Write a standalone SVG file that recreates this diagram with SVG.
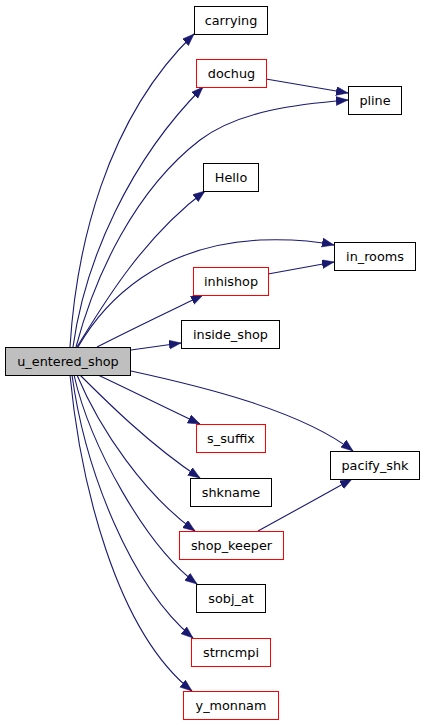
<svg xmlns="http://www.w3.org/2000/svg" width="424" height="725" viewBox="0 0 424 725">
<style>
.n rect{fill:#ffffff;stroke:#000000;stroke-width:1}
.n.r rect{stroke:#ff0000}
.n.s rect{fill:#bfbfbf}
.n text{font-family:"DejaVu Sans",sans-serif;font-size:12.8px;text-anchor:middle;fill:#000000}
.e path{fill:none;stroke:#191970;stroke-width:1.1;marker-end:url(#ah)}
</style>
<defs>
<marker id="ah" markerUnits="userSpaceOnUse" markerWidth="13" markerHeight="10" refX="12" refY="4.5" orient="auto">
<path d="M0,0 L12,4.5 L0,9 Z" fill="#191970" stroke="#191970" stroke-width="0.5"/>
</marker>
</defs>
<rect width="424" height="725" fill="#ffffff"/>
<g id="edges" class="e">
<path d="M70,347 C76,250 105,120 194,34"/>
<path d="M73,347 C85,260 130,160 203,87"/>
<path d="M76,347 C95,275 135,190 200,140 C240,110 300,104 348,100"/>
<path d="M266,79 L348,93"/>
<path d="M77,347 C100,310 140,240 205,191"/>
<path d="M78,347 C105,300 160,245 260,240 C290,239 315,241 334,245"/>
<path d="M268,274 L334,262"/>
<path d="M97,347 C130,330 170,311 203,295"/>
<path d="M131,350 L181,343"/>
<path d="M98,375 C130,390 170,410 200,424"/>
<path d="M131,371 C200,386 300,410 353,451"/>
<path d="M80,375 C105,400 150,445 200,478"/>
<path d="M258,531 C280,519 320,497 352,479"/>
<path d="M77,375 C100,430 145,495 195,531"/>
<path d="M74,375 C90,445 145,545 197,584"/>
<path d="M72,375 C85,470 130,585 193,638"/>
<path d="M70,375 C80,480 115,630 192,691"/>
</g>
<g id="carrying" class="n"><rect x="194.5" y="6.5" width="73" height="28"/><text x="231" y="25">carrying</text></g>
<g id="dochug" class="n r"><rect x="196.5" y="59.5" width="70" height="28"/><text x="231.5" y="78">dochug</text></g>
<g id="pline" class="n"><rect x="348.5" y="86.5" width="53" height="28"/><text x="375" y="105">pline</text></g>
<g id="Hello" class="n"><rect x="203.5" y="163.5" width="55" height="28"/><text x="231" y="182">Hello</text></g>
<g id="in_rooms" class="n"><rect x="334.5" y="242.5" width="81" height="28"/><text x="375" y="261">in_rooms</text></g>
<g id="inhishop" class="n r"><rect x="193.5" y="267.5" width="75" height="28"/><text x="231" y="286">inhishop</text></g>
<g id="inside_shop" class="n"><rect x="181.5" y="320.5" width="98" height="28"/><text x="230.5" y="339">inside_shop</text></g>
<g id="u_entered_shop" class="n s"><rect x="5.5" y="347.5" width="125" height="28"/><text x="68" y="366">u_entered_shop</text></g>
<g id="s_suffix" class="n r"><rect x="196.5" y="424.5" width="69" height="28"/><text x="231" y="443">s_suffix</text></g>
<g id="pacify_shk" class="n"><rect x="330.5" y="451.5" width="89" height="28"/><text x="375" y="470">pacify_shk</text></g>
<g id="shkname" class="n"><rect x="190.5" y="478.5" width="81" height="28"/><text x="231" y="497">shkname</text></g>
<g id="shop_keeper" class="n r"><rect x="179.5" y="531.5" width="104" height="28"/><text x="231.5" y="550">shop_keeper</text></g>
<g id="sobj_at" class="n"><rect x="196.5" y="584.5" width="69" height="28"/><text x="231" y="603">sobj_at</text></g>
<g id="strncmpi" class="n r"><rect x="191.5" y="638.5" width="79" height="28"/><text x="231" y="657">strncmpi</text></g>
<g id="y_monnam" class="n r"><rect x="183.5" y="691.5" width="95" height="28"/><text x="231" y="710">y_monnam</text></g>
</svg>
